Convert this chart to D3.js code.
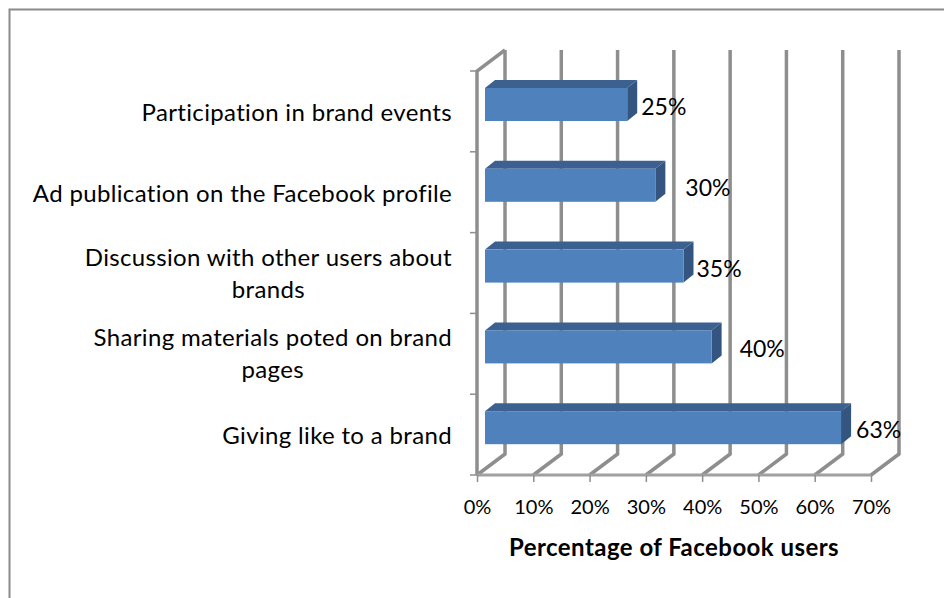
<!DOCTYPE html>
<html><head><meta charset="utf-8">
<script src="https://cdnjs.cloudflare.com/ajax/libs/d3/7.8.5/d3.min.js"></script>
<style>html,body{margin:0;padding:0;background:#fff}svg{display:block}text{font-family:Lato,"Open Sans",sans-serif;fill:#000}</style>
</head><body><div id="c"></div>
<script>
const categories = ["Participation in brand events","Ad publication on the Facebook profile","Discussion with other users about brands","Sharing materials poted on brand pages","Giving like to a brand"];
const categoryLines = [["Participation in brand events"],["Ad publication on the Facebook profile"],["Discussion with other users about","brands"],["Sharing materials poted on brand","pages"],["Giving like to a brand"]];
const values = [25,30,35,40,63];
const valueLabels = ["25%","30%","35%","40%","63%"];
const tickValues = [0,10,20,30,40,50,60,70];
const axisTitle = "Percentage of Facebook users";

(function(){
const W=944,H=598;
const svg=d3.select("#c").append("svg").attr("width",W).attr("height",H);
const x=d3.scaleLinear().domain([0,70]).range([477,871]);
const y=d3.scaleBand().domain(categories).range([71,475]);
const dx=28,dy=-21;
const grey="#8e8e8e";

// frame
svg.append("path").attr("d","M9.5,600V9.5H944").attr("fill","none").attr("stroke","#8a8a8a").attr("stroke-width",2);

// walls
const g=svg.append("g").attr("fill","none").attr("stroke",grey).attr("stroke-width",3.5);
tickValues.forEach(t=>{
  g.append("path").attr("d",`M${x(t)},475L${x(t)+dx},${475+dy}V${71+dy}`);
});
g.append("path").attr("d",`M${x(0)},475V71L${x(0)+dx},${71+dy}`);
g.append("path").attr("d",`M${x(0)},475H${x(70)}`).attr("stroke-width",3).attr("stroke","#a0a0a0");

// axes
const xAxis=d3.axisBottom(x).tickValues(tickValues).tickFormat(d=>d+"%").tickSize(7).tickPadding(18);
const ax=svg.append("g").attr("transform","translate(0,475)").call(xAxis);
ax.select(".domain").remove();
ax.selectAll("line").attr("stroke",grey).attr("stroke-width",1.5);
ax.selectAll("text").attr("font-size",20).style("font-family","Lato");

const yTicks=[...categories.map(c=>y(c)),475];
svg.selectAll(".yt").data(yTicks).join("line").attr("class","yt")
  .attr("x1",x(0)-7).attr("x2",x(0)).attr("y1",d=>d).attr("y2",d=>d)
  .attr("stroke",grey).attr("stroke-width",1.5);

// bars
const barOff=8, barTop=17, bh=33, ddx=10, ddy=-8;
const bars=svg.selectAll(".bar").data(categories).join("g").attr("class","bar");
const xr=(i)=>x(values[i])+9.5;
bars.append("path").attr("fill","#3c6190")
  .attr("d",(c,i)=>{const a=x(0)+barOff,b=xr(i),t=y(c)+barTop;return `M${a},${t}L${a+ddx},${t+ddy}H${b+ddx}L${b},${t}Z`;});
bars.append("path").attr("fill","#33557f")
  .attr("d",(c,i)=>{const b=xr(i),t=y(c)+barTop;return `M${b},${t}L${b+ddx},${t+ddy}V${t+bh+ddy}L${b},${t+bh}Z`;});
bars.append("rect").attr("fill","#4f81bd")
  .attr("x",x(0)+barOff).attr("y",c=>y(c)+barTop)
  .attr("width",(c,i)=>xr(i)-x(0)-barOff).attr("height",bh);

// value labels
const labelGap=[14,30,13,28,15];
svg.selectAll(".vl").data(categories).join("text").attr("class","vl")
  .attr("x",(c,i)=>xr(i)+labelGap[i]).attr("y",c=>y(c)+44)
  .attr("font-size",23).text((c,i)=>valueLabels[i]);

// category labels: single lines end at the axis gutter; wrapped lines are centred on each other
categories.forEach((c,i)=>{
  const lines=categoryLines[i];
  const wrapped=lines.length>1;
  const t=svg.append("text").attr("font-size",24).attr("letter-spacing",0.34)
    .attr("x",452).attr("text-anchor","end").attr("y",y(c)+50).text(lines[0]);
  if(wrapped){
    t.attr("y",y(c)+33);
    const w=t.node().getComputedTextLength();
    svg.append("text").attr("font-size",24).attr("letter-spacing",0.34)
      .attr("x",452-w/2).attr("text-anchor","middle").attr("y",y(c)+33+32).text(lines[1]);
  }
});

svg.append("text").attr("x",674).attr("y",556).attr("text-anchor","middle")
  .attr("font-size",24).attr("letter-spacing",0.45).attr("font-weight",700).text(axisTitle);
})();
</script></body></html>
